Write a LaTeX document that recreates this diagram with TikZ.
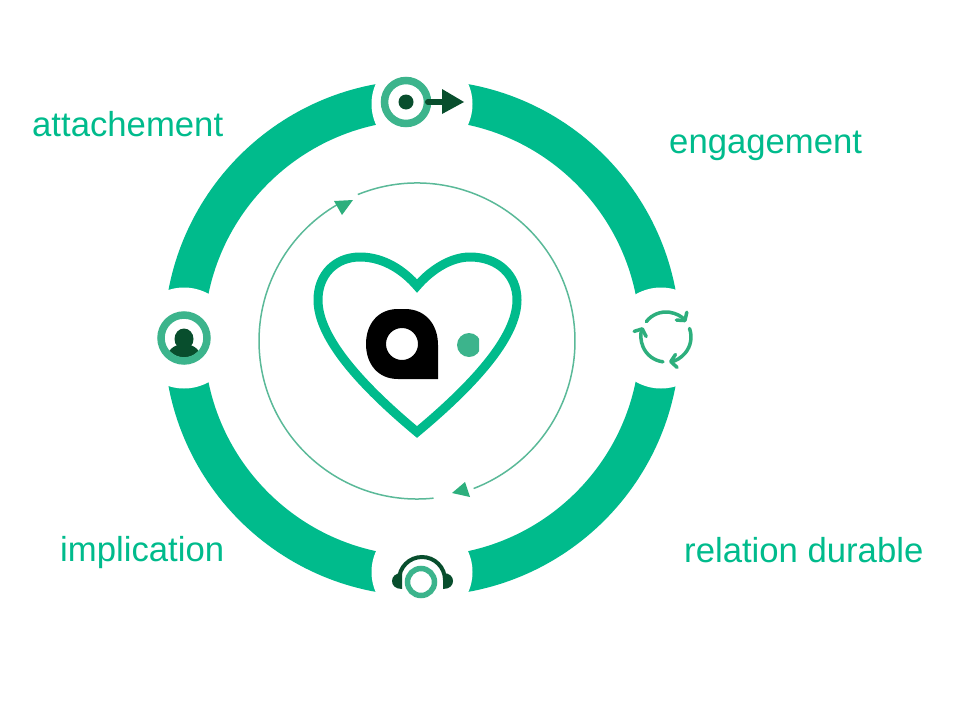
\documentclass[tikz,border=0pt]{standalone}
\usepackage{fontspec}
\setmainfont{Liberation Sans}
\usetikzlibrary{arrows.meta}
\definecolor{mint}{RGB}{0,187,140}
\definecolor{softgreen}{RGB}{60,180,140}
\definecolor{turngreen}{RGB}{45,175,125}
\definecolor{thingreen}{RGB}{90,185,152}
\definecolor{darkgreen}{RGB}{8,78,45}
\begin{document}
\begin{tikzpicture}[x=1pt,y=-1pt,>=latex,
  ringlabel/.style={anchor=base west,inner sep=0pt,text=mint,font=\fontsize{34.7}{40}\selectfont},
  gapdisc/.style={circle,fill=white,draw=none,inner sep=0pt,minimum size=101pt},
  badge/.style={draw=softgreen,line width=7.5pt},
  turn/.style={turngreen,line width=3.5pt,line cap=round,-{Straight Barb[length=5.5pt,width=13pt,round]}}]

\useasboundingbox (0,0) rectangle (960,720);

\draw[mint,line width=40pt] (422,338) circle (238);
\node[gapdisc] (gaptop) at (422,104) {};
\node[gapdisc] (gapright) at (661,338) {};
\node[gapdisc] (gapleft) at (184,338) {};
\node[gapdisc] (gapbottom) at (422,572) {};

\draw[thingreen,line width=1.5pt] (417,341) ++(-112:158) arc (-112:69:158);
\draw[thingreen,line width=1.5pt] (417,341) ++(84:158) arc (84:240:158);
\fill[turngreen] (334,201) -- (353,200) -- (342,215) -- cycle;
\fill[turngreen] (465,482) -- (452,493) -- (470,497) -- cycle;

\draw[mint,line width=9pt,miter limit=10] (417,286) .. controls (405,272) and (385,257) .. (360,257)
  .. controls (335,257) and (318,275) .. (318,300) .. controls (318,330) and (345,372) .. (417,432)
  .. controls (489,372) and (517,330) .. (517,300) .. controls (517,275) and (498,257) .. (470,257)
  .. controls (449,257) and (429,272) .. (417,286) -- cycle;

\fill[black,even odd rule] (398,309) .. controls (378,309) and (366,324) .. (366,344)
  .. controls (366,364) and (378,379) .. (398,379) -- (438,379) -- (438,345)
  .. controls (438,324) and (425,309) .. (405,309) -- cycle
  (402,344) circle (16);
\begin{scope}
\clip (440,320) rectangle (479,370);
\fill[softgreen] (469,345) circle (12);
\end{scope}

% top
\draw[badge] (406,102) circle (21.5);
\fill[darkgreen] (406,102) circle (7.5);
\draw[darkgreen,line width=6pt,line cap=round] (428,102) -- (444,102);
\fill[darkgreen] (442,89) -- (464,102) -- (442,114) -- cycle;

% right
\draw[turn] (666,337) ++(-142:25) arc (-142:-37:25);
\draw[turn] (666,337) ++(-20:25) arc (-20:83:25);
\draw[turn] (666,337) ++(97:25) arc (97:203:25);

% left
\begin{scope}
\clip (184,338) circle (19.5);
\fill[darkgreen] (184,360) ellipse (18 and 16);
\end{scope}
\fill[darkgreen] (184,339) ellipse (9.5 and 10.5);
\draw[badge] (184,338) circle (23);

% bottom
\draw[darkgreen,line width=4pt] (399,580) arc (180:360:23);
\fill[darkgreen] (402,573) -- (402,589) .. controls (395,589) and (392,585) .. (392,581) .. controls (392,577) and (395,573) .. (402,573) -- cycle;
\fill[darkgreen] (443,573) -- (443,589) .. controls (450,589) and (453,585) .. (453,581) .. controls (453,577) and (450,573) .. (443,573) -- cycle;
\draw[fill=white,draw=softgreen,line width=5.5pt] (421,582) circle (13.5);

\node[ringlabel] (attachement) at (32,136) {attachement};
\node[ringlabel] (engagement) at (669,153) {engagement};
\node[ringlabel] (implication) at (60,561) {implication};
\node[ringlabel] (relation) at (684,562) {relation durable};
\end{tikzpicture}
\end{document}
